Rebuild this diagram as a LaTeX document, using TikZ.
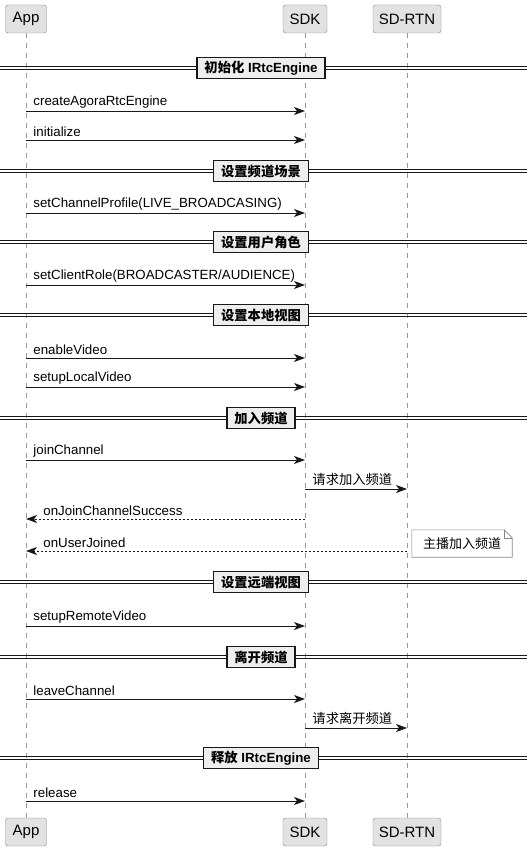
\documentclass[tikz,border=0pt]{standalone}
\usepackage{fontspec}
\setmainfont{Liberation Sans}
\newfontfamily\cjk{Noto Sans CJK SC}
\usetikzlibrary{arrows.meta}
\definecolor{pfill}{HTML}{E2E2E2}
\definecolor{pborder}{HTML}{888888}
\definecolor{dfill}{HTML}{EEEEEE}
\definecolor{ink}{HTML}{181818}
\definecolor{lgray}{HTML}{999999}
\begin{document}
\begin{tikzpicture}[x=1pt,y=-1pt,
  part/.style={draw=pborder, fill=pfill, rounded corners=2.5pt, minimum height=28pt, inner sep=0pt, font=\fontsize{15}{17}\selectfont},
  life/.style={draw=lgray, line width=0.6pt, dash pattern=on 5pt off 5pt},
  divbox/.style={draw=ink, fill=dfill, line width=1.6pt, minimum height=21pt, inner xsep=7.5pt, inner ysep=0pt, font=\fontsize{13.3}{15}\selectfont\bfseries},
  divline/.style={draw=ink, line width=0.9pt},
  msg/.style={draw=ink, line width=0.9pt, -{Stealth[length=11pt,width=8pt,inset=3pt]}},
  ret/.style={msg, dash pattern=on 2pt off 2pt},
  lbl/.style={anchor=south west, inner sep=0pt, font=\fontsize{13.3}{15}\selectfont},
  notebox/.style={minimum width=100pt, minimum height=27pt, inner sep=0pt, font=\fontsize{13}{15}\selectfont}
]
\useasboundingbox (0,0) rectangle (527,853);
\fill[white] (0,0) rectangle (527,853);

% participants
\node[part, minimum width=41pt] (appT) at (26,19) {App};
\node[part, minimum width=44pt] (sdkT) at (305,19) {SDK};
\node[part, minimum width=68pt] (rtnT) at (407,19) {SD-RTN};
\node[part, minimum width=41pt] (appB) at (26,832) {App};
\node[part, minimum width=44pt] (sdkB) at (305,832) {SDK};
\node[part, minimum width=68pt] (rtnB) at (407,832) {SD-RTN};
\draw[life] (appT) -- (appB);
\draw[life] (sdkT) -- (sdkB);
\draw[life] (rtnT) -- (rtnB);

% dividers
\foreach \yy/\txt [count=\i] in {
  68/{{\cjk 初始化} IRtcEngine},
  171/{\cjk 设置频道场景},
  242/{\cjk 设置用户角色},
  315/{\cjk 设置本地视图},
  418/{\cjk 加入频道},
  582/{\cjk 设置远端视图},
  657/{\cjk 离开频道},
  758/{{\cjk 释放} IRtcEngine}}{
  \draw[divline] (0,\yy-1.6) -- (527,\yy-1.6);
  \draw[divline] (0,\yy+1.6) -- (527,\yy+1.6);
  \node[divbox] (div\i) at (261,\yy) {\txt};
}

% messages
\draw[msg] (appT |- 0,111) -- (sdkT |- 0,111) node[lbl] at (33,108.5) {createAgoraRtcEngine};
\draw[msg] (appT |- 0,140) -- (sdkT |- 0,140) node[lbl] at (33,137.5) {initialize};
\draw[msg] (appT |- 0,213) -- (sdkT |- 0,213) node[lbl] at (33,210.5) {setChannelProfile(LIVE\_BROADCASING)};
\draw[msg] (appT |- 0,285) -- (sdkT |- 0,285) node[lbl] at (33,282.5) {setClientRole(BROADCASTER/AUDIENCE)};
\draw[msg] (appT |- 0,358) -- (sdkT |- 0,358) node[lbl] at (33,355.5) {enableVideo};
\draw[msg] (appT |- 0,387) -- (sdkT |- 0,387) node[lbl] at (33,384.5) {setupLocalVideo};
\draw[msg] (appT |- 0,460) -- (sdkT |- 0,460) node[lbl] at (33,457.5) {joinChannel};
\draw[msg] (sdkT |- 0,489) -- (rtnT |- 0,489) node[lbl] at (312,486.5) {\cjk 请求加入频道};
\draw[ret] (sdkT |- 0,519) -- (appT |- 0,519) node[lbl] at (43,516.5) {onJoinChannelSuccess};
\draw[ret] (rtnT |- 0,551) -- (appT |- 0,551) node[lbl] at (43,548.5) {onUserJoined};
\draw[msg] (appT |- 0,626) -- (sdkT |- 0,626) node[lbl] at (33,623.5) {setupRemoteVideo};
\draw[msg] (appT |- 0,699) -- (sdkT |- 0,699) node[lbl] at (33,696.5) {leaveChannel};
\draw[msg] (sdkT |- 0,728) -- (rtnT |- 0,728) node[lbl] at (312,725.5) {\cjk 请求离开频道};
\draw[msg] (appT |- 0,801) -- (sdkT |- 0,801) node[lbl] at (33,798.5) {release};

% note
\node[notebox] (note) at (462,543.5) {\cjk 主播加入频道};
\draw[draw=pborder, fill=white, line width=0.6pt] (note.south west) -- (note.north west) -- ([xshift=-8pt]note.north east) -- ([yshift=-8pt]note.north east) -- (note.south east) -- cycle;
\draw[draw=pborder, line width=0.6pt] ([xshift=-8pt]note.north east) -- ([xshift=-8pt,yshift=-8pt]note.north east) -- ([yshift=-8pt]note.north east);
\node[notebox] at (note.center) {\cjk 主播加入频道};
\end{tikzpicture}
\end{document}
